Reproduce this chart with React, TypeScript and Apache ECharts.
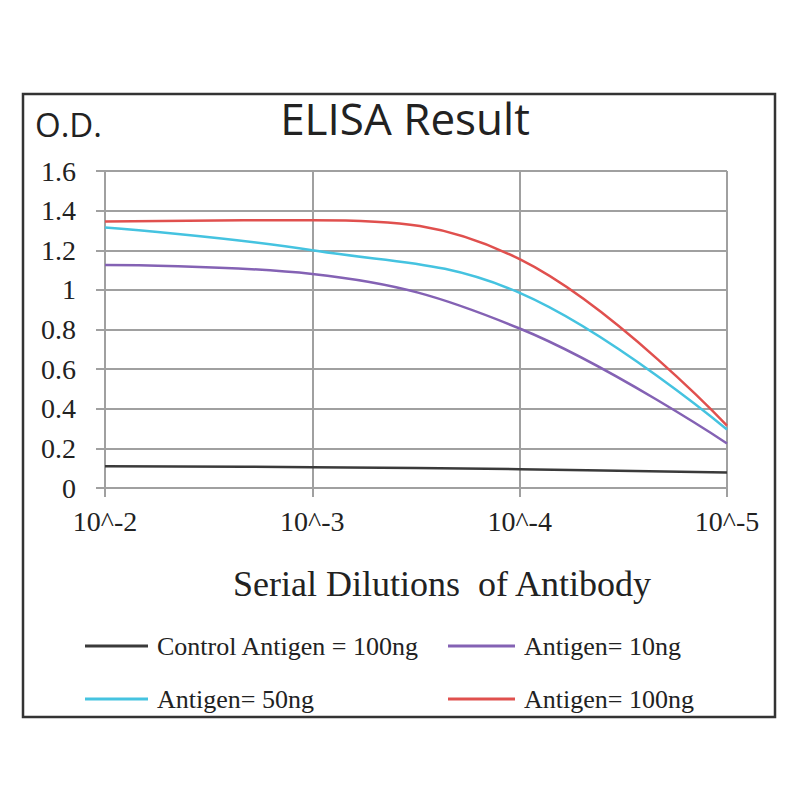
import React, { useEffect, useRef } from "react";
import * as echarts from "echarts";

const categories = ["10^-2", "10^-3", "10^-4", "10^-5"];
const controlValues = [0.11, 0.105, 0.095, 0.078];
const antigen10Values = [1.125, 1.08, 0.805, 0.225];
const antigen50Values = [1.315, 1.2, 0.985, 0.295];
const antigen100Values = [1.345, 1.352, 1.155, 0.315];
const seriesNames = ["Control Antigen = 100ng", "Antigen= 10ng", "Antigen= 50ng", "Antigen= 100ng"];
const seriesColors = ["#3a3a3a", "#8462b4", "#45c3e0", "#e0504e"];

export default function App() {
  const ref = useRef<HTMLDivElement>(null);
  useEffect(() => {
    if (!ref.current) return;
    const chart = echarts.init(ref.current, null, { renderer: "svg" });
    const values = [controlValues, antigen10Values, antigen50Values, antigen100Values];
    const gridColor = "#a0a0a0";
    const serif = "'Liberation Serif', 'Times New Roman', serif";
    const legendText = { fontFamily: serif, fontSize: 26, color: "#222", padding: [0, 0, 0, 4] };
    chart.setOption({
      animation: false,
      backgroundColor: "#ffffff",
      grid: { left: 105, right: 73, top: 171, bottom: 312, containLabel: false },
      xAxis: {
        type: "category",
        data: categories,
        boundaryGap: false,
        axisLine: { show: true, lineStyle: { color: gridColor, width: 2 } },
        axisTick: { show: true, length: 9, lineStyle: { color: gridColor, width: 2 } },
        splitLine: { show: true, lineStyle: { color: gridColor, width: 2 } },
        axisLabel: { fontFamily: serif, fontSize: 28, color: "#222", margin: 19 },
      },
      yAxis: {
        type: "value",
        min: 0,
        max: 1.6,
        interval: 0.2,
        axisLine: { show: true, lineStyle: { color: gridColor, width: 2 } },
        axisTick: { show: true, length: 9, lineStyle: { color: gridColor, width: 2 } },
        splitLine: { show: true, lineStyle: { color: gridColor, width: 2 } },
        axisLabel: { fontFamily: serif, fontSize: 28, color: "#222", margin: 29 },
      },
      legend: [
        {
          data: [seriesNames[0], seriesNames[2]],
          orient: "vertical",
          left: 80,
          top: 627,
          icon: "rect",
          itemWidth: 63,
          itemHeight: 3,
          itemGap: 25,
          textStyle: { ...legendText, lineHeight: 28 },
        },
        {
          data: [seriesNames[1], seriesNames[3]],
          orient: "vertical",
          left: 443,
          top: 627,
          icon: "rect",
          itemWidth: 67,
          itemHeight: 3,
          itemGap: 25,
          textStyle: { ...legendText, lineHeight: 28 },
        },
      ],
      graphic: [
        {
          type: "rect",
          shape: { x: 23, y: 94, width: 752, height: 623 },
          style: { fill: "none", stroke: "#333", lineWidth: 2.5 },
          z: 100,
        },
        {
          type: "text",
          x: 405,
          y: 118,
          style: {
            text: "ELISA Result",
            fontFamily: "'Open Sans', 'Noto Sans', sans-serif",
            fontSize: 44,
            fill: "#222",
            textAlign: "center",
            textVerticalAlign: "middle",
          },
        },
        {
          type: "text",
          x: 35,
          y: 124,
          style: {
            text: "O.D.",
            fontFamily: "'Open Sans', 'Noto Sans', sans-serif",
            fontSize: 33,
            fill: "#222",
            textAlign: "left",
            textVerticalAlign: "middle",
          },
        },
        {
          type: "text",
          x: 442,
          y: 584,
          style: {
            text: "Serial Dilutions  of Antibody",
            fontFamily: serif,
            fontSize: 36,
            fill: "#222",
            textAlign: "center",
            textVerticalAlign: "middle",
          },
        },
      ],
      series: seriesNames.map((name, i) => ({
        name,
        type: "line",
        data: values[i],
        smooth: 0.4,
        symbol: "none",
        lineStyle: { color: seriesColors[i], width: 2.5 },
        itemStyle: { color: seriesColors[i] },
      })),
    });
    return () => chart.dispose();
  }, []);
  return (
    <div
      ref={ref}
      style={{ position: "absolute", left: 0, top: 0, width: 800, height: 800, background: "#fff" }}
    />
  );
}
